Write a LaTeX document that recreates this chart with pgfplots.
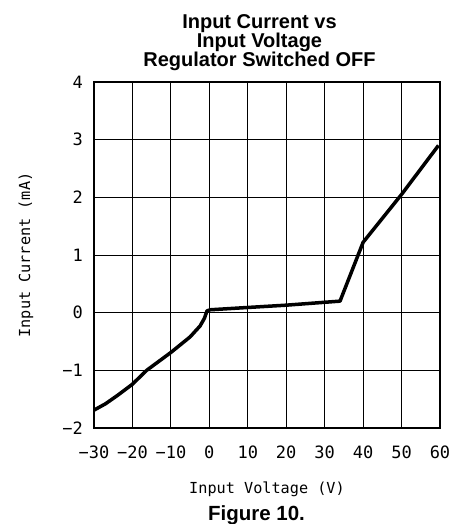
\documentclass[border=0pt]{standalone}
\usepackage{pgfplots}
\pgfplotsset{compat=1.18}
\usepackage{fontspec}
\setmainfont{Liberation Sans}
\newfontfamily\cadfont{DejaVu Sans Mono}

\begin{document}
\begin{tikzpicture}
\begin{axis}[
scale only axis,
width=346pt,
height=346pt,
xmin=-30, xmax=60,
ymin=-2, ymax=4,
xtick={-30,-20,...,60},
ytick={-2,-1,...,4},
xticklabels={−30,−20,−10,0,10,20,30,40,50,60},
yticklabels={−2,−1,0,1,2,3,4},
grid=major,
major grid style={black, line width=0.8pt},
axis line style={line width=1.3pt},
major tick length=0pt,
ticklabel style={font=\cadfont\fontsize{17}{17}\selectfont, inner sep=0pt},
xticklabel style={anchor=north, yshift=-18pt},
yticklabel style={anchor=east, xshift=-11pt},
xlabel={Input Voltage (V)},
ylabel={Input Current (mA)},
label style={font=\cadfont\fontsize{15.2}{15.2}\selectfont, inner sep=0pt},
xlabel style={at={(axis description cs:0.5,0)}, anchor=north, yshift=-54pt},
ylabel style={at={(axis description cs:-0.1965,0.5)}, anchor=center},
title={Input Current vs\\[-1pt]Input Voltage\\[-1pt]Regulator Switched OFF},
title style={font=\bfseries\fontsize{20}{18}\selectfont, align=center,
  inner sep=0pt, at={(axis description cs:0.5,1)}, anchor=south,
  yshift=5.5pt, xshift=-7.5pt},
]
\addplot[black, line width=3.5pt, line join=round] coordinates {
(-30,-1.69) (-27,-1.58) (-24,-1.44) (-20,-1.24) (-16.3,-1.0)
(-10,-0.69) (-5,-0.42) (-2.4,-0.23) (-1.3,-0.1) (-0.6,0.03)
(0.2,0.05) (10,0.09) (20,0.13) (34,0.2) (40,1.22) (50,2.05) (59.6,2.9)
};
\end{axis}
\node[font=\bfseries\fontsize{20.5}{20.5}\selectfont, anchor=base] at (162.5pt,-92.7pt) {Figure 10.};
\pgfresetboundingbox
\path (-94pt,-96pt) rectangle (361pt,428pt);
\end{tikzpicture}
\end{document}
